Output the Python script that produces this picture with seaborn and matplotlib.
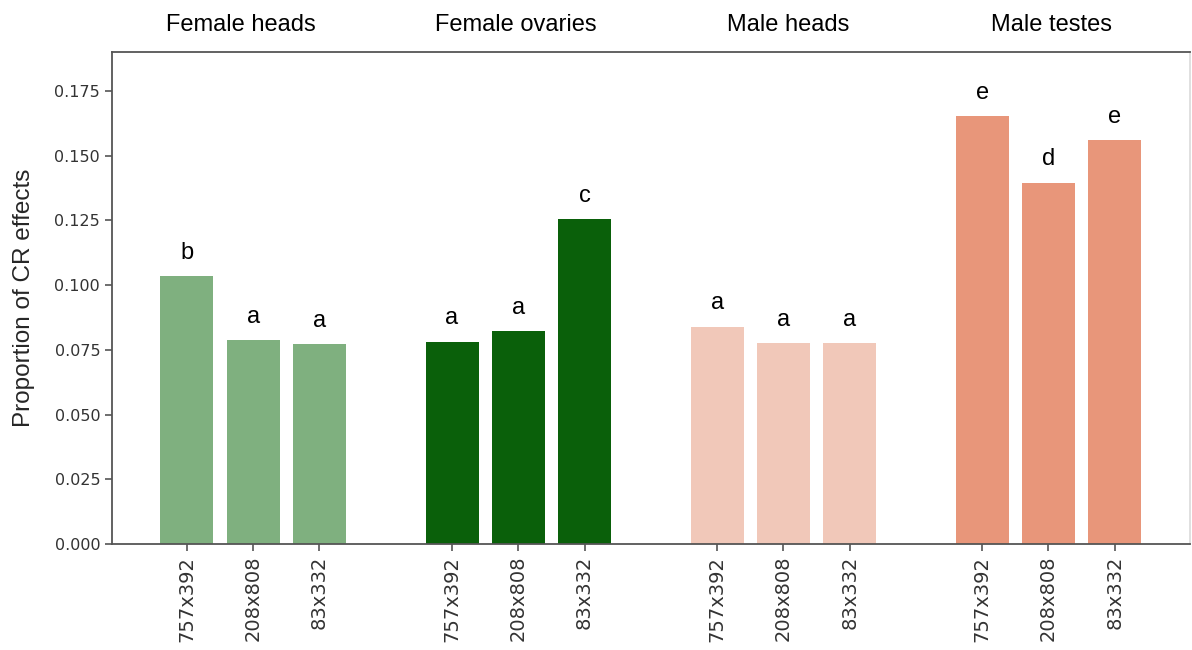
import matplotlib
matplotlib.use("Agg")
import matplotlib.pyplot as plt
import seaborn as sns
import pandas as pd

groups = ["Female heads", "Female ovaries", "Male heads", "Male testes"]
crosses = ["757x392", "208x808", "83x332"]
female_heads = [0.1036, 0.0787, 0.0772]
female_ovaries = [0.0782, 0.0822, 0.1256]
male_heads = [0.0840, 0.0777, 0.0777]
male_testes = [0.1651, 0.1396, 0.1560]
letters_fh = ["b", "a", "a"]
letters_fo = ["a", "a", "c"]
letters_mh = ["a", "a", "a"]
letters_mt = ["e", "d", "e"]
colors = ["#7fb07f", "#0a600a", "#f1c8b9", "#e8967a"]

values = [female_heads, female_ovaries, male_heads, male_testes]
letters = [letters_fh, letters_fo, letters_mh, letters_mt]

rows = []
for gi, g in enumerate(groups):
    for ci, c in enumerate(crosses):
        rows.append({"pos": gi * 4 + ci, "value": values[gi][ci], "group": g,
                     "cross": c, "letter": letters[gi][ci]})
df = pd.DataFrame(rows)

sns.set_style("white")
fig = plt.figure(figsize=(11.92, 6.5), dpi=100)
ax = fig.add_axes([0.094, 0.163, 0.904, 0.757])

sns.barplot(data=df, x="pos", y="value", hue="group", palette=dict(zip(groups, colors)),
            native_scale=True, dodge=False, width=0.8, legend=False, ax=ax,
            saturation=1, errorbar=None, linewidth=0)

ax.set_xlim(-1.13, 15.13)
ax.set_ylim(0, 0.19)
yt = [0, 0.025, 0.05, 0.075, 0.1, 0.125, 0.15, 0.175]
ax.set_yticks(yt)
ax.set_yticklabels([f"{v:.3f}" for v in yt], fontsize=11.5, color="#333333",
                   family="DejaVu Sans")
ax.set_xticks(df["pos"].tolist())
ax.set_xticklabels(df["cross"].tolist(), rotation=90, fontsize=14, color="#333333",
                   family="DejaVu Sans")
ax.tick_params(axis="both", which="both", length=5, width=1.2, color="#555555",
               left=True, bottom=True)
ax.set_xlabel("")
ax.set_ylabel("Proportion of CR effects", fontsize=17.5, family="Liberation Sans",
              labelpad=14)

for sp in ax.spines.values():
    sp.set_color("#555555")
    sp.set_linewidth(1.3)
ax.spines["right"].set_color("#dddddd")

for _, r in df.iterrows():
    ax.text(r["pos"], r["value"] + 0.0066, r["letter"], ha="center", va="baseline",
            fontsize=17, family="Liberation Sans", color="black")

title_shift = [-0.19, -0.04, 0.07, 0.04]
for gi, g in enumerate(groups):
    ax.text(gi * 4 + 1 + title_shift[gi], 1.0 + 27 / 492, g,
            transform=ax.get_xaxis_transform(), ha="center", va="center",
            fontsize=17, family="Liberation Sans", color="black")

fig.savefig("out.png", dpi=100)
